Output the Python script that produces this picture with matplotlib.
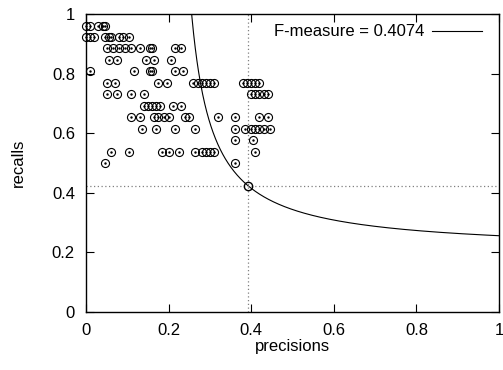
import numpy as np
import matplotlib
matplotlib.use("Agg")
from matplotlib import pyplot as plt

plt.rcParams['font.family'] = ['Liberation Sans', 'DejaVu Sans']

# recall levels (k/26) and the precisions seen at each level
recall_levels = [0.9615, 0.9231, 0.8846, 0.8462, 0.8077, 0.7692, 0.7308,
                 0.6923, 0.6538, 0.6154, 0.5769, 0.5385, 0.5000]
precisions_at = [
    [0.0, 0.01, 0.03, 0.04, 0.045],
    [0.0, 0.01, 0.02, 0.045, 0.055, 0.06, 0.08, 0.09, 0.105],
    [0.05, 0.065, 0.08, 0.095, 0.11, 0.13, 0.155, 0.16, 0.215, 0.23],
    [0.055, 0.075, 0.145, 0.165, 0.205],
    [0.01, 0.115, 0.155, 0.16, 0.215, 0.235],
    [0.05, 0.07, 0.175, 0.195, 0.26, 0.27, 0.28, 0.29, 0.30, 0.31,
     0.38, 0.39, 0.40, 0.41, 0.42],
    [0.05, 0.075, 0.11, 0.14, 0.40, 0.41, 0.42, 0.43, 0.44],
    [0.14, 0.15, 0.16, 0.17, 0.18, 0.21, 0.23],
    [0.11, 0.13, 0.165, 0.175, 0.19, 0.20, 0.24, 0.25, 0.32, 0.36, 0.42, 0.44],
    [0.135, 0.17, 0.215, 0.265, 0.36, 0.385, 0.40, 0.41, 0.42, 0.43, 0.445],
    [0.36, 0.405],
    [0.06, 0.105, 0.185, 0.20, 0.225, 0.265, 0.28, 0.29, 0.30, 0.31, 0.41],
    [0.045, 0.36],
]
best_precision = 0.393
best_recall = 0.4231
f_measure = 0.4074

precisions = []
recalls = []
for r, ps in zip(recall_levels, precisions_at):
    for p in ps:
        precisions.append(p)
        recalls.append(r)

fig = plt.figure(figsize=(5.03, 3.70), dpi=100)
ax = fig.add_axes([0.171, 0.157, 0.821, 0.805])

# iso F-measure curve: R = F*P / (2P - F)
P = np.linspace(f_measure / 2 + 1e-4, 1, 800)
R = f_measure * P / (2 * P - f_measure)
ax.plot(P, R, color='black', lw=0.8, label='F-measure = %.4f' % f_measure)

ax.plot([best_precision, best_precision], [0, 1], color='gray', lw=0.9, ls=(0, (1, 2)))
ax.plot([0, 1], [best_recall, best_recall], color='gray', lw=0.9, ls=(0, (1, 2)))

ax.plot(precisions, recalls, ls='none', marker='o', ms=5.8, mfc='none',
        mec='black', mew=0.8, clip_on=False)
ax.plot(precisions, recalls, ls='none', marker='.', ms=1.5, color='black', clip_on=False)
ax.plot([best_precision], [best_recall], ls='none', marker='o', ms=6, mfc='none',
        mec='black', mew=1.0)

ax.set_xlim(0, 1)
ax.set_ylim(0, 1)
ax.set_xticks([0, 0.2, 0.4, 0.6, 0.8, 1])
ax.set_xticklabels(['0', '0.2', '0.4', '0.6', '0.8', '1'])
ax.set_yticks([0, 0.2, 0.4, 0.6, 0.8, 1])
ax.set_yticklabels(['0', '0.2', '0.4', '0.6', '0.8', '1'])
ax.tick_params(direction='in', length=6, width=0.8, top=True, right=True,
               labelsize=12, pad=8)
for s in ax.spines.values():
    s.set_linewidth(1.0)
ax.set_xlabel('precisions', fontsize=12, labelpad=1)
ax.set_ylabel('recalls', fontsize=12, labelpad=19)

ax.legend(loc='upper right', bbox_to_anchor=(0.99, 1.007), frameon=False,
          markerfirst=False, fontsize=12, handlelength=3.0,
          borderaxespad=0.35, handletextpad=0.5)

fig.savefig('out.png', dpi=100)
